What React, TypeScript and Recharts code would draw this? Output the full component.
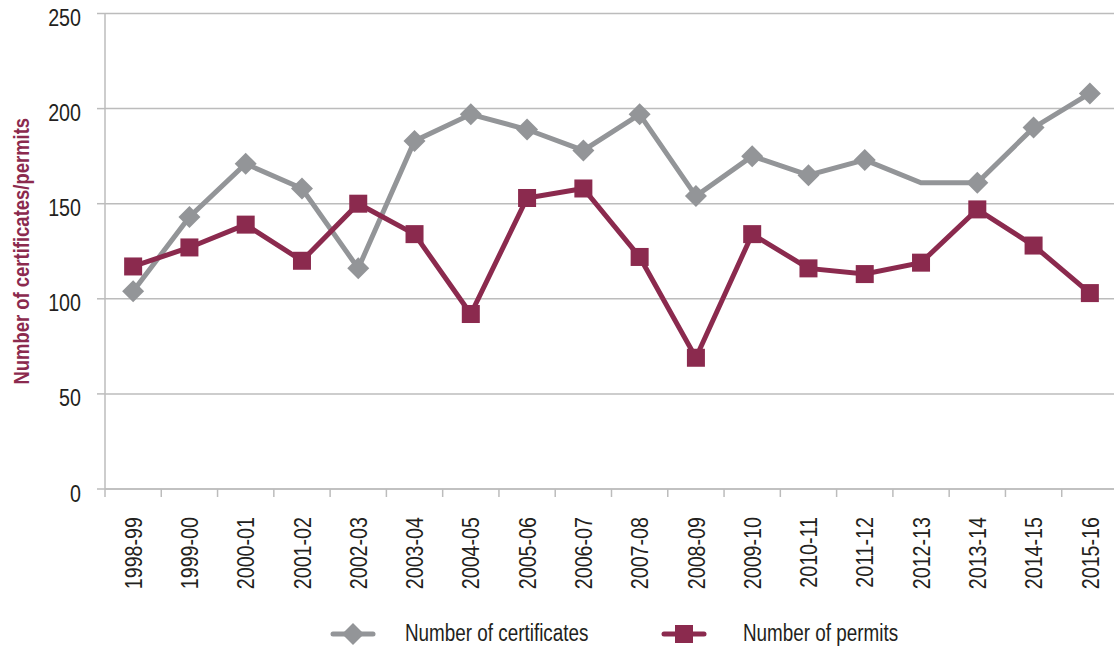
import { LineChart, Line, XAxis, YAxis, CartesianGrid, Legend } from "recharts";

const seasons = [
  "1998-99", "1999-00", "2000-01", "2001-02", "2002-03", "2003-04",
  "2004-05", "2005-06", "2006-07", "2007-08", "2008-09", "2009-10",
  "2010-11", "2011-12", "2012-13", "2013-14", "2014-15", "2015-16",
];
const certificates = [104, 143, 171, 158, 116, 183, 197, 189, 178, 197, 154, 175, 165, 173, 161, 161, 190, 208];
const permits = [117, 127, 139, 120, 150, 134, 92, 153, 158, 122, 69, 134, 116, 113, 119, 147, 128, 103];
// the original leaves this point of the grey line without a marker
const certificatesNoMarker = ["2012-13"];
const yTicks = [0, 50, 100, 150, 200, 250];

const GREY = "#939598";
const MAROON = "#8b2a4e";
const TEXT = "#231f20";
const AXIS = "#bcbcbc";
const FONT = "'Liberation Sans', Arial, sans-serif";
const SQUEEZE = 0.82; // the original uses a condensed face; squeeze Liberation Sans to match

const data = seasons.map((s, i) => ({
  season: s,
  pos: i + 0.5,
  certificates: certificates[i],
  permits: permits[i],
}));
// category boundaries get tick marks, category centres get labels
const xTicks = seasons.flatMap((_, i) => [i, i + 0.5]).concat(seasons.length);

function Diamond({ cx, cy, r = 11, fill }: any) {
  return <polygon points={`${cx},${cy - r} ${cx + r},${cy} ${cx},${cy + r} ${cx - r},${cy}`} fill={fill} />;
}

function CertDot(props: any) {
  const { cx, cy, payload } = props;
  if (cx == null || cy == null || certificatesNoMarker.includes(payload.season)) return <g key={props.key} />;
  return <Diamond key={props.key} cx={cx} cy={cy} fill={GREY} />;
}

function PermitDot(props: any) {
  const { cx, cy } = props;
  if (cx == null || cy == null) return <g key={props.key} />;
  return <rect key={props.key} x={cx - 9} y={cy - 9} width={18} height={18} fill={MAROON} />;
}

function SeasonTick({ x, y, payload }: any) {
  const v = payload.value;
  if (Number.isInteger(v)) {
    return <line x1={x} y1={y} x2={x} y2={y + 8} stroke={AXIS} strokeWidth={1.5} />;
  }
  const label = seasons[Math.floor(v)] ?? "";
  const ty = y + 28;
  return (
    <text transform={`translate(${x}, ${ty}) rotate(-90) scale(${SQUEEZE}, 1)`} x={0} y={0} dy="0.36em"
      textAnchor="end" fill={TEXT} fontSize={24} fontFamily={FONT}>
      {label}
    </text>
  );
}

function ValueTick({ x, y, payload }: any) {
  return (
    <text transform={`translate(${x}, ${y + 4}) scale(${SQUEEZE}, 1)`} x={0} y={0} dy="0.355em"
      textAnchor="end" fill={TEXT} fontSize={24} fontFamily={FONT}>
      {payload.value}
    </text>
  );
}

function LegendContent() {
  const item = (left: number, textLeft: number, color: string, marker: "diamond" | "square", label: string) => (
    <>
      <svg style={{ position: "absolute", left, top: 22 }} width={48} height={30}>
        <line x1={4} y1={15} x2={44} y2={15} stroke={color} strokeWidth={5} strokeLinecap="round" />
        {marker === "diamond" ? (
          <Diamond cx={24} cy={15} r={11} fill={color} />
        ) : (
          <rect x={15} y={6} width={18} height={18} fill={color} />
        )}
      </svg>
      <span
        style={{
          position: "absolute", left: textLeft, top: 23, fontSize: 23, color: TEXT, fontFamily: FONT,
          whiteSpace: "nowrap", transform: `scaleX(${SQUEEZE})`, transformOrigin: "left center",
        }}
      >
        {label}
      </span>
    </>
  );
  return (
    <div style={{ position: "relative", width: 1114, height: 50 }}>
      {item(329, 405, GREY, "diamond", "Number of certificates")}
      {item(660, 743, MAROON, "square", "Number of permits")}
    </div>
  );
}

export default function App() {
  return (
    <div style={{ position: "absolute", left: 0, top: 0, width: 1114, height: 647, overflow: "hidden", background: "#fff" }}>
      <LineChart width={1118} height={647} data={data} margin={{ top: 13.5, right: 0, bottom: 0, left: 0 }}>
        <CartesianGrid horizontal vertical={false} stroke={AXIS} strokeWidth={1.5} />
        <XAxis
          type="number"
          dataKey="pos"
          domain={[0, seasons.length]}
          ticks={xTicks}
          interval={0}
          tickLine={false}
          tickSize={0}
          tickMargin={0}
          height={108}
          stroke={AXIS}
          strokeWidth={1.5}
          tick={<SeasonTick />}
        />
        <YAxis
          domain={[0, 250]}
          ticks={yTicks}
          interval={0}
          width={105}
          tickSize={8}
          tickMargin={16}
          stroke={AXIS}
          strokeWidth={1.5}
          tick={<ValueTick />}
          label={{
            content: ({ viewBox }: any) => {
              const x = viewBox.x + 21;
              const y = viewBox.y + viewBox.height / 2;
              return (
                <text transform={`translate(${x}, ${y}) rotate(-90) scale(0.84, 1)`} x={0} y={0} textAnchor="middle"
                  dominantBaseline="central" fill={MAROON} fontSize={22} fontWeight="bold" fontFamily={FONT}>
                  Number of certificates/permits
                </text>
              );
            },
          }}
        />
        <Legend verticalAlign="bottom" height={50} content={<LegendContent />} />
        <Line
          type="linear"
          dataKey="certificates"
          name="Number of certificates"
          stroke={GREY}
          strokeWidth={5}
          dot={<CertDot />}
          activeDot={false}
          isAnimationActive={false}
        />
        <Line
          type="linear"
          dataKey="permits"
          name="Number of permits"
          stroke={MAROON}
          strokeWidth={5}
          dot={<PermitDot />}
          activeDot={false}
          isAnimationActive={false}
        />
      </LineChart>
    </div>
  );
}
